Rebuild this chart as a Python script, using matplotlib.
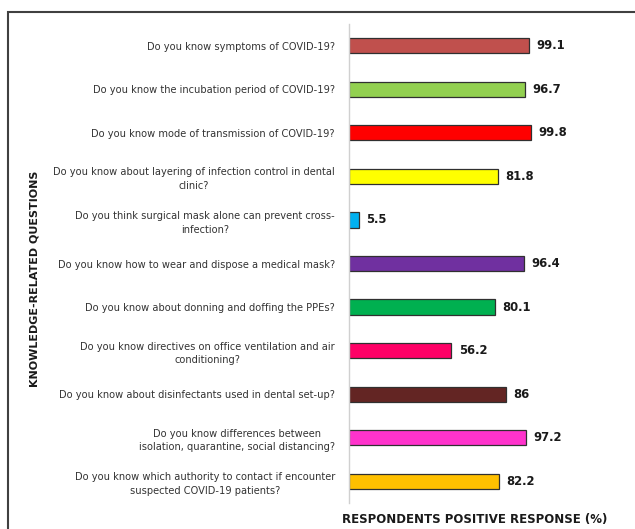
import matplotlib.pyplot as plt
from matplotlib.patches import Rectangle

questions = [
    'Do you know symptoms of COVID-19?',
    'Do you know the incubation period of COVID-19?',
    'Do you know mode of transmission of COVID-19?',
    'Do you know about layering of infection control in dental\nclinic?',
    'Do you think surgical mask alone can prevent cross-\ninfection?',
    'Do you know how to wear and dispose a medical mask?',
    'Do you know about donning and doffing the PPEs?',
    'Do you know directives on office ventilation and air\nconditioning?',
    'Do you know about disinfectants used in dental set-up?',
    'Do you know differences between\nisolation, quarantine, social distancing?',
    'Do you know which authority to contact if encounter\nsuspected COVID-19 patients?',
]
values = [99.1, 96.7, 99.8, 81.8, 5.5, 96.4, 80.1, 56.2, 86, 97.2, 82.2]
value_labels = ['99.1', '96.7', '99.8', '81.8', '5.5', '96.4', '80.1', '56.2', '86', '97.2', '82.2']
colors = ['#C0504D', '#92D050', '#FF0000', '#FFFF00', '#00B0F0', '#7030A0',
          '#00B050', '#FF0066', '#632523', '#FF33CC', '#FFC000']

W, H = 635, 529
fig = plt.figure(figsize=(W / 100, H / 100), dpi=100)
ax = fig.add_axes([349 / W, 1 - 503 / H, (620 - 349) / W, (503 - 24) / H])

pos = list(range(len(values)))
ax.barh(pos, values, height=0.35, color=colors, edgecolor='#303030', linewidth=0.9)
for p, v, lab in zip(pos, values, value_labels):
    ax.text(v + 4, p, lab, va='center', ha='left', fontsize=8.4, fontweight='bold', color='#1a1a1a')

ax.set_xlim(0, 271 / 1.82)
ax.set_ylim(len(values) - 0.5, -0.5)
ax.set_yticks(pos)
ax.set_yticklabels(questions, fontsize=7.1, color='#333333', multialignment='center',
                   linespacing=1.45)
ax.tick_params(axis='y', length=0, pad=10)
ax.set_xticks([])
for s in ['top', 'right', 'bottom']:
    ax.spines[s].set_visible(False)
ax.spines['left'].set_color('#d0d0d0')
ax.spines['left'].set_linewidth(1)

# axis titles
fig.text(474.5 / W, 1 - 520 / H, 'RESPONDENTS POSITIVE RESPONSE (%)', ha='center', va='center',
         fontsize=8.5, fontweight='bold', color='#1a1a1a')
fig.text(35 / W, 1 - 279 / H, 'KNOWLEDGE-RELATED QUESTIONS', rotation=90, ha='center', va='center',
         fontsize=8, fontweight='bold', color='#1a1a1a')

# chart border
fig.patches.append(Rectangle((8 / W, -0.2), 1.2, 1.2 - 12 / H, transform=fig.transFigure,
                             fill=False, edgecolor='#404040', linewidth=1.5))

fig.savefig('out.png', dpi=100)
